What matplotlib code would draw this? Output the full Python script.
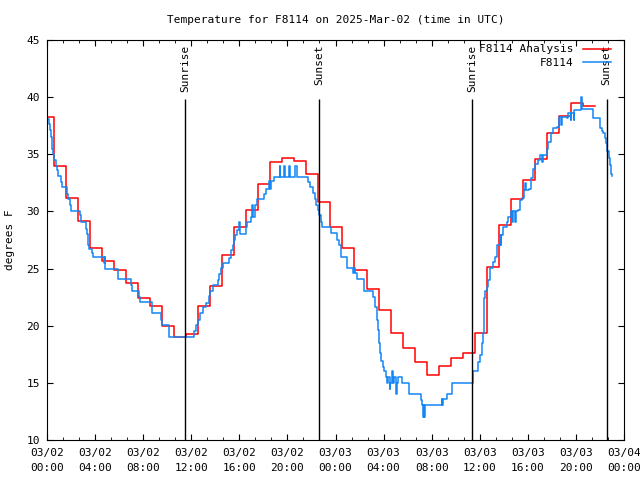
import matplotlib
matplotlib.use('Agg')
import matplotlib.pyplot as plt
import matplotlib.dates as mdates
from matplotlib.ticker import AutoMinorLocator
from datetime import datetime, timedelta

plt.rcParams['font.family'] = 'DejaVu Sans Mono'
plt.rcParams['font.size'] = 8

start = datetime(2025, 3, 2)

# hourly analysis values (hour 0 .. 45), each held from :35 of the previous hour
red_hours = list(range(46))
red_temps = [38.3, 34.0, 31.2, 29.2, 26.8, 25.7, 24.9, 23.7, 22.4, 21.7,
             20.0, 19.0, 19.25, 21.7, 23.5, 26.2, 28.6, 30.1, 32.4, 34.35,
             34.65, 34.45, 33.25, 30.85, 28.6, 26.8, 24.9, 23.2, 21.4, 19.4,
             18.05, 16.8, 15.7, 16.5, 17.2, 17.6, 19.35, 25.1, 28.8, 31.1,
             32.75, 34.55, 36.85, 38.35, 39.45, 39.2]

# station observations (hours since 03/02 00:00 UTC, deg F)
blue_hours = [0.00, 0.17, 0.25, 0.33, 0.44, 0.53, 0.61, 0.72, 0.80, 0.89,
              1.16, 1.28, 1.64, 1.78, 1.91, 2.00, 2.75, 2.83, 3.22, 3.30,
              3.38, 3.44, 3.52, 3.72, 3.86, 4.77, 4.80, 4.84, 5.88, 6.99,
              7.10, 7.65, 7.76, 8.71, 9.48, 9.60, 10.18, 12.26, 12.37, 12.59,
              12.73, 13.00, 13.23, 13.50, 13.56, 13.84, 14.25, 14.34, 14.45, 14.67,
              15.12, 15.34, 15.45, 15.56, 15.67, 15.84, 16.00, 16.06, 16.56, 16.66,
              17.00, 17.08, 17.12, 17.30, 17.45, 18.08, 18.20, 18.47, 18.55, 18.60,
              18.91, 19.36, 19.42, 19.74, 19.80, 20.13, 20.19, 20.63, 20.77, 21.74,
              21.88, 22.16, 22.30, 22.38, 22.52, 22.63, 22.80, 22.91, 23.63, 24.10,
              24.29, 24.46, 24.98, 25.48, 25.55, 25.60, 25.77, 26.37, 27.15, 27.29,
              27.43, 27.51, 27.62, 27.70, 27.79, 27.98, 28.06, 28.18, 28.30, 28.40,
              28.50, 28.55, 28.70, 28.78, 28.90, 29.00, 29.15, 29.22, 29.51, 30.14,
              31.09, 31.17, 31.26, 31.30, 31.35, 31.40, 31.45, 32.84, 32.90, 32.95,
              33.25, 33.67, 35.47, 35.88, 36.02, 36.16, 36.30, 36.33, 36.36, 36.44,
              36.63, 36.72, 36.86, 37.08, 37.27, 37.46, 37.69, 37.75, 37.80, 37.96,
              38.25, 38.38, 38.58, 38.70, 38.78, 38.90, 38.98, 39.21, 39.35, 39.49,
              39.68, 39.75, 39.82, 40.13, 40.27, 40.46, 40.60, 40.87, 41.01, 41.20,
              41.26, 41.57, 41.71, 41.90, 42.12, 42.40, 42.62, 42.80, 42.86, 43.24,
              43.37, 43.55, 43.62, 43.80, 43.86, 44.40, 44.48, 45.40, 46.01, 46.15,
              46.28, 46.42, 46.51, 46.62, 46.73, 46.82, 46.93, 47.01]
blue_temps = [38.1, 37.65, 37.1, 36.5, 35.5, 35.0, 34.5, 34.0, 33.6, 33.1,
              32.6, 32.1, 31.5, 31.05, 30.6, 30.05, 29.7, 29.05, 28.5, 28.0,
              27.5, 27.05, 26.7, 26.4, 26.0, 25.5, 26.0, 25.0, 24.1, 23.55,
              23.05, 22.55, 22.05, 21.1, 20.5, 20.05, 19.0, 19.5, 20.05, 20.5,
              21.15, 21.65, 22.0, 22.6, 23.0, 23.55, 24.0, 24.5, 25.05, 25.45,
              25.9, 26.65, 27.05, 27.5, 27.95, 28.4, 29.1, 28.05, 28.6, 29.1,
              29.55, 30.55, 29.55, 30.55, 31.1, 31.5, 32.0, 32.65, 32.0, 32.65,
              33.05, 34.0, 33.05, 34.0, 33.05, 34.0, 33.05, 34.0, 33.05, 32.6,
              32.1, 31.6, 31.1, 30.55, 30.15, 29.7, 29.1, 28.65, 28.1, 27.5,
              27.05, 26.05, 25.05, 24.6, 25.05, 24.6, 24.05, 23.05, 22.55, 21.65,
              20.5, 19.65, 18.45, 17.6, 16.95, 16.4, 16.0, 15.55, 15.0, 15.55,
              14.5, 15.0, 16.0, 15.0, 15.55, 14.0, 15.0, 15.55, 15.0, 14.05,
              13.5, 13.05, 12.5, 12.0, 13.05, 12.0, 13.05, 13.55, 13.05, 13.55,
              14.05, 15.0, 16.0, 16.85, 17.45, 18.45, 19.35, 20.5, 22.4, 23.0,
              23.4, 24.0, 25.05, 25.6, 26.05, 27.05, 27.95, 27.05, 27.95, 28.65,
              29.1, 29.55, 30.0, 29.1, 30.0, 29.1, 30.0, 30.15, 31.0, 31.15,
              31.9, 32.5, 31.9, 32.0, 32.9, 33.75, 34.15, 34.5, 34.95, 34.3,
              34.95, 35.5, 36.1, 36.85, 37.3, 37.4, 38.3, 37.6, 38.3, 38.15,
              38.6, 38.0, 38.6, 38.0, 38.9, 40.0, 39.0, 38.15, 37.3, 37.05,
              36.85, 36.4, 35.95, 35.25, 34.65, 34.05, 33.3, 33.1]

sun_hours = [11.50, 22.64, 35.38, 46.55]
sun_labels = ['Sunrise', 'Sunset', 'Sunrise', 'Sunset']


def to_dt(hours):
    return [start + timedelta(hours=float(h)) for h in hours]


red_x = [max(h - 0.42, 0.0) for h in red_hours] + [red_hours[-1] + 0.58]
red_y = red_temps + [red_temps[-1]]

fig = plt.figure(figsize=(6.4, 4.8), dpi=100)
ax = fig.add_axes([47 / 640, 40 / 480, 577 / 640, 400 / 480])

ax.plot(to_dt(red_x), red_y, drawstyle='steps-post', color='#ff0000',
        lw=1.1, label='F8114 Analysis')
ax.plot(to_dt(blue_hours), blue_temps, drawstyle='steps-post', color='#1286f5',
        lw=1.1, label='F8114')

for h, lab in zip(sun_hours, sun_labels):
    t = start + timedelta(hours=h)
    ax.vlines(t, 10, 39.8, color='black', lw=1.0)
    ax.text(t, 44.6, lab, rotation=90, ha='center', va='top', fontsize=8)

ax.set_xlim(start, start + timedelta(hours=48))
ax.set_ylim(10, 45)
ax.set_yticks(range(10, 46, 5))
ax.xaxis.set_major_locator(mdates.HourLocator(byhour=range(0, 24, 4)))
ax.xaxis.set_minor_locator(AutoMinorLocator(3))
ax.xaxis.set_major_formatter(mdates.DateFormatter('%m/%d\n%H:%M'))
ax.tick_params(which='both', direction='in', top=True, right=True, labelsize=8)
ax.tick_params(which='major', length=4, pad=5)
ax.tick_params(which='minor', length=2.5)
ax.tick_params(axis='x', which='major', pad=6)

ax.set_title('Temperature for F8114 on 2025-Mar-02 (time in UTC)', fontsize=8, pad=12)
fig.text(10 / 640, 0.5, 'degrees F', rotation=90, ha='center', va='center', fontsize=8)

ax.legend(loc='upper right', bbox_to_anchor=(0.9845, 1.0), frameon=False,
          markerfirst=False, fontsize=8, handlelength=2.5, borderaxespad=0,
          labelspacing=0.35)

fig.canvas.draw()
for lab in ax.get_xticklabels():
    lab.set_linespacing(1.55)

fig.savefig('out.png', dpi=100)
